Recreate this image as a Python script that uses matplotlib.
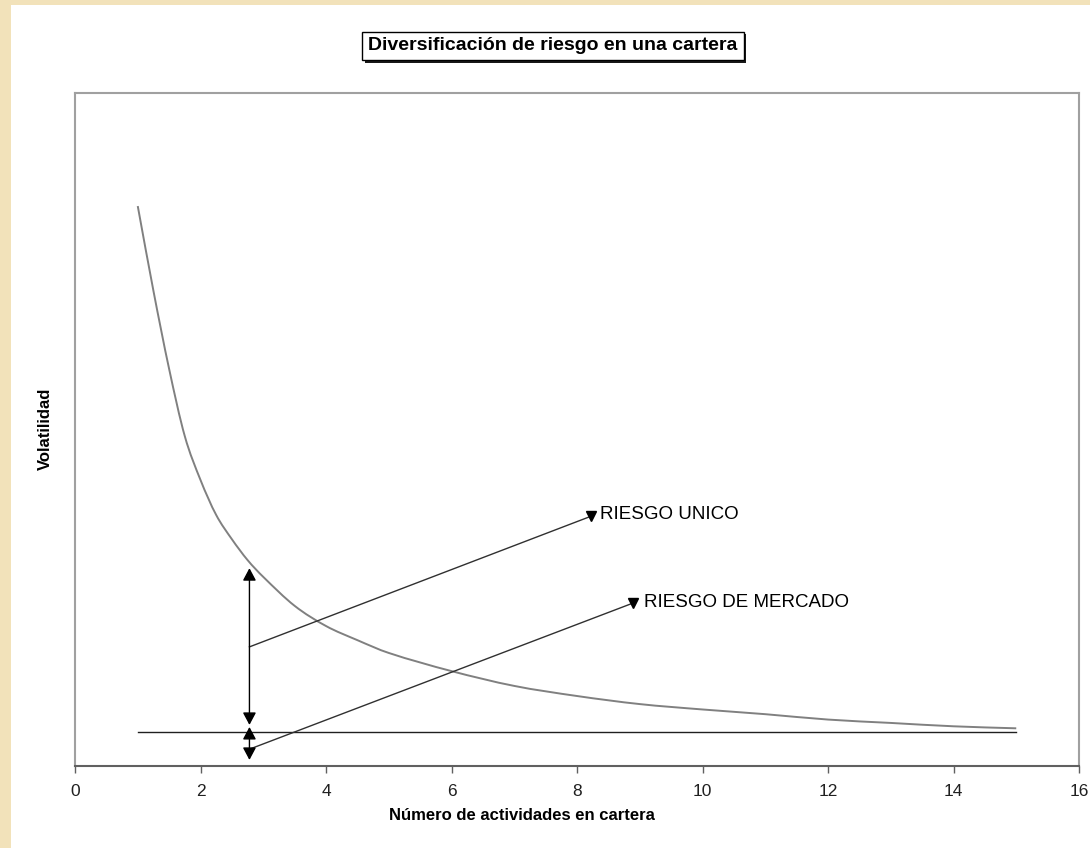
import matplotlib
matplotlib.use("Agg")
import matplotlib.pyplot as plt
import matplotlib.patheffects as pe
from matplotlib.patches import Rectangle, PathPatch
from matplotlib.path import Path

plt.rcParams['font.family'] = ['Liberation Sans', 'DejaVu Sans']

# curve readings: number of assets vs total volatility
n_assets = [1, 1.25, 1.5, 1.75, 2, 2.25, 2.5, 2.75, 3, 3.5, 4, 4.5, 5,
            6, 7, 8, 9, 10, 11, 12, 13, 14, 15]
volatility = [83.2, 70.6, 59.0, 49.0, 42.5, 37.3, 33.7, 30.6, 28.1, 23.8, 20.8, 18.7, 16.8,
              14.1, 11.9, 10.4, 9.2, 8.4, 7.7, 6.9, 6.4, 5.9, 5.6]
market_x = [1, 15]
market_risk = [5.0, 5.0]

# arrows / leader lines
arrow_x = 2.78
unico_arrow = [29.4, 6.1]
mercado_arrow = [5.8, 0.9]
unico_line_x = [2.78, 8.22]
unico_line_y = [17.7, 37.1]
mercado_line_x = [2.78, 8.89]
mercado_line_y = [2.5, 24.2]


def smooth_path(xs, ys):
    # smoothed line through the readings (cubic hermite drawn as beziers)
    n = len(xs)
    m = []
    for i in range(n):
        a, b = max(i - 1, 0), min(i + 1, n - 1)
        m.append((ys[b] - ys[a]) / (xs[b] - xs[a]))
    verts = [(xs[0], ys[0])]
    codes = [Path.MOVETO]
    for i in range(n - 1):
        h = xs[i + 1] - xs[i]
        verts += [(xs[i] + h / 3, ys[i] + m[i] * h / 3),
                  (xs[i + 1] - h / 3, ys[i + 1] - m[i + 1] * h / 3),
                  (xs[i + 1], ys[i + 1])]
        codes += [Path.CURVE4] * 3
    return Path(verts, codes)


fig = plt.figure(figsize=(10.9, 8.48), dpi=100)
ax = fig.add_axes([75/1090, 1-766/848, 1004/1090, 673/848])

# beige page border
fig.patches.append(Rectangle((0, 0), 11/1090, 1, transform=fig.transFigure,
                             facecolor='#F2E2BA', edgecolor='none', zorder=-5))
fig.patches.append(Rectangle((0, 1-5/848), 1, 5/848, transform=fig.transFigure,
                             facecolor='#F2E2BA', edgecolor='none', zorder=-5))

ax.add_patch(PathPatch(smooth_path(n_assets, volatility), fill=False,
                       edgecolor='#808080', linewidth=1.4))
ax.plot(market_x, market_risk, color='#202020', linewidth=1.0)

arr = dict(arrowstyle='<|-|>,head_length=0.75,head_width=0.4', color='black',
           lw=1.0, shrinkA=0, shrinkB=0, mutation_scale=10)
ax.annotate('', xy=(arrow_x, unico_arrow[0]), xytext=(arrow_x, unico_arrow[1]), arrowprops=arr)
ax.annotate('', xy=(arrow_x, mercado_arrow[0]), xytext=(arrow_x, mercado_arrow[1]), arrowprops=arr)

ax.plot(unico_line_x, unico_line_y, color='#303030', linewidth=1.0)
ax.plot(unico_line_x[-1], unico_line_y[-1], marker='v', color='black', ms=7)
ax.plot(mercado_line_x, mercado_line_y, color='#303030', linewidth=1.0)
ax.plot(mercado_line_x[-1], mercado_line_y[-1], marker='v', color='black', ms=7)

ax.text(8.37, 37.3, 'RIESGO UNICO', fontsize=13.5, va='center', ha='left')
ax.text(9.07, 24.3, 'RIESGO DE MERCADO', fontsize=13.5, va='center', ha='left')

ax.set_xlim(0, 16)
ax.set_ylim(0, 100)
ax.set_xticks(range(0, 17, 2))
ax.set_yticks([])
ax.tick_params(axis='x', direction='out', length=5, width=1, color='#606060',
               labelsize=12.5, labelcolor='#202020', pad=8)
for s in ['left', 'top', 'right']:
    ax.spines[s].set_color('#A0A0A0')
    ax.spines[s].set_linewidth(1.5)
ax.spines['bottom'].set_color('#606060')
ax.spines['bottom'].set_linewidth(1.5)

fig.text(522/1090, 1-816/848, 'Número de actividades en cartera', fontsize=12,
         fontweight='bold', ha='center', va='center')
fig.text(45/1090, 1-429/848, 'Volatilidad', fontsize=12, fontweight='bold',
         ha='center', va='center', rotation=90)

t = fig.text(553/1090, 1-46/848, 'Diversificación de riesgo en una cartera', fontsize=14,
             fontweight='bold', ha='center', va='center',
             bbox=dict(boxstyle='square,pad=0.3', facecolor='white', edgecolor='black', lw=1))
t.get_bbox_patch().set_path_effects([
    pe.SimplePatchShadow(offset=(2, -2), shadow_rgbFace='black', alpha=0.9), pe.Normal()])

fig.savefig('out.png', dpi=100)
